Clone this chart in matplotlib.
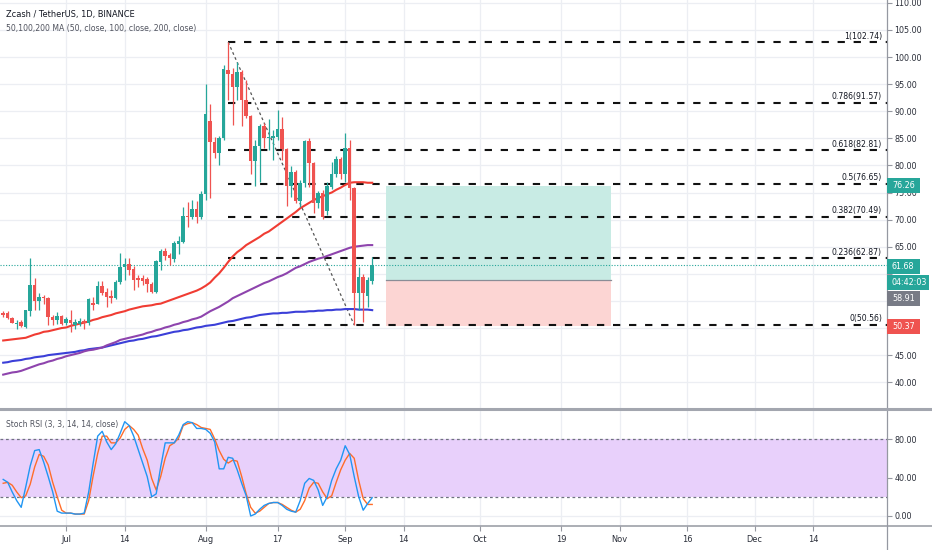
import matplotlib
matplotlib.use('Agg')
import matplotlib.pyplot as plt
import numpy as np
import pandas as pd
from matplotlib import font_manager
from matplotlib.patches import Rectangle
from matplotlib.lines import Line2D

# ---------------- data ----------------
FIRST_DATE = '2020-06-17'
LAST_DATE = '2020-09-07'

OPEN = [52.7, 52.8, 51.8, 50.8, 51.2, 50.1, 53.2, 57.9, 54.9, 55.8,
        55.5, 52.1, 51.5, 52.3, 51.0, 51.5, 50.6, 50.7, 51.3, 50.9,
        54.7, 54.5, 57.8, 56.7, 56.0, 55.5, 58.4, 61.2, 61.9, 60.8,
        59.3, 59.3, 59.0, 58.2, 56.7, 62.2, 64.2, 63.4, 62.7, 65.5,
        65.9, 70.7, 70.5, 71.9, 70.4, 74.8, 88.2, 84.4, 82.3, 85.0,
        97.6, 96.9, 94.4, 97.3, 92.1, 89.1, 80.9, 83.6, 87.3, 85.0,
        85.1, 85.3, 86.7, 83.0, 76.2, 78.8, 73.5, 76.8, 84.5, 80.4,
        73.0, 75.0, 71.5, 76.1, 78.5, 81.1, 78.4, 83.2, 75.8, 56.5,
        59.4, 56.0, 58.6]
HIGH = [53.1, 53.1, 52.1, 51.5, 51.5, 53.4, 62.85, 59.3, 56.4, 56.1,
        55.8, 52.4, 53.0, 52.4, 52.1, 53.4, 51.6, 51.8, 51.6, 55.5,
        55.8, 58.7, 58.6, 57.3, 57.0, 58.9, 63.8, 62.9, 63.0, 61.4,
        59.8, 59.8, 59.5, 58.5, 62.5, 64.5, 64.7, 63.8, 66.1, 66.9,
        72.3, 73.3, 73.7, 73.5, 75.2, 95.1, 91.3, 85.3, 85.4, 98.5,
        102.74, 97.9, 99.1, 97.6, 95.8, 89.3, 84.7, 87.6, 87.8, 88.5,
        86.5, 90.3, 88.9, 83.3, 79.9, 79.2, 77.3, 84.7, 85.0, 80.7,
        75.2, 75.4, 77.0, 80.7, 81.7, 81.5, 86.0, 84.7, 76.1, 61.3,
        59.9, 59.5, 63.1]
LOW = [52.0, 51.6, 50.9, 49.9, 50.1, 50.0, 52.2, 53.3, 53.3, 54.5,
       50.6, 50.6, 50.7, 50.6, 50.6, 49.3, 49.9, 50.3, 49.9, 50.6,
       53.3, 54.4, 56.1, 53.9, 54.7, 55.3, 58.2, 58.9, 59.8, 57.0,
       57.6, 57.9, 56.7, 56.5, 56.5, 60.7, 62.5, 61.6, 62.2, 63.7,
       65.6, 68.7, 70.2, 69.3, 70.2, 73.6, 73.9, 81.3, 80.1, 84.7,
       92.1, 87.5, 92.1, 87.2, 88.7, 78.5, 76.2, 77.0, 83.2, 82.8,
       81.0, 84.7, 81.0, 72.5, 74.2, 73.0, 72.3, 76.1, 76.1, 71.2,
       72.1, 70.2, 70.9, 75.6, 77.9, 77.5, 77.0, 73.6, 50.56, 53.3,
       51.1, 53.9, 58.2]
CLOSE = [52.4, 51.8, 51.0, 51.0, 50.3, 53.3, 57.9, 55.0, 55.7, 55.5,
         52.1, 51.5, 52.2, 50.7, 51.6, 50.9, 51.2, 51.3, 50.9, 55.3,
         54.2, 57.8, 56.5, 55.8, 55.6, 58.4, 61.2, 61.8, 60.7, 58.9,
         58.9, 58.7, 58.1, 56.7, 62.4, 64.2, 63.3, 62.9, 65.6, 66.0,
         70.7, 70.4, 71.9, 70.4, 74.8, 89.5, 84.4, 82.2, 85.0, 97.7,
         96.9, 94.5, 97.3, 92.1, 89.1, 80.9, 83.6, 87.3, 85.0, 85.3,
         85.4, 86.7, 83.0, 76.2, 78.8, 73.5, 76.8, 84.5, 80.4, 73.1,
         75.0, 70.5, 76.2, 78.5, 81.1, 78.4, 83.2, 75.8, 56.5, 59.4,
         56.5, 58.9, 61.68]

MA50 = [47.7, 47.8, 47.9, 48.0, 48.1, 48.2, 48.5, 48.8, 49.0, 49.3,
        49.4, 49.6, 49.8, 50.0, 50.1, 50.4, 50.6, 50.8, 51.0, 51.2,
        51.5, 51.7, 52.0, 52.2, 52.4, 52.7, 52.9, 53.1, 53.4, 53.6,
        53.8, 54.0, 54.1, 54.2, 54.4, 54.5, 54.8, 55.1, 55.4, 55.7,
        56.0, 56.3, 56.6, 56.9, 57.3, 57.8, 58.4, 59.3, 60.1, 61.1,
        62.2, 63.2, 64.0, 64.6, 65.3, 65.8, 66.3, 66.8, 67.4, 67.8,
        68.4, 69.0, 69.6, 70.2, 70.8, 71.4, 72.1, 72.6, 73.1, 73.6,
        74.0, 74.3, 74.7, 75.0, 75.5, 75.9, 76.4, 76.8, 76.9, 76.9,
        76.9, 76.8, 76.8]
MA100 = [41.4, 41.6, 41.8, 41.9, 42.1, 42.4, 42.7, 43.0, 43.3, 43.5,
         43.8, 44.0, 44.3, 44.5, 44.8, 45.0, 45.2, 45.4, 45.7, 45.9,
         46.0, 46.2, 46.4, 46.8, 47.1, 47.4, 47.8, 48.0, 48.2, 48.4,
         48.6, 48.8, 49.1, 49.3, 49.6, 49.8, 50.1, 50.3, 50.6, 50.8,
         51.1, 51.3, 51.6, 51.8, 52.1, 52.6, 53.1, 53.5, 53.9, 54.4,
         54.9, 55.5, 55.9, 56.3, 56.7, 57.1, 57.5, 57.9, 58.3, 58.6,
         59.0, 59.4, 59.7, 60.1, 60.6, 61.1, 61.4, 61.8, 62.2, 62.5,
         62.8, 63.0, 63.3, 63.6, 63.9, 64.2, 64.5, 64.8, 65.0, 65.1,
         65.2, 65.3, 65.3]
MA200 = [43.6, 43.7, 43.9, 44.0, 44.1, 44.3, 44.4, 44.6, 44.7, 44.8,
         45.0, 45.1, 45.2, 45.3, 45.4, 45.5, 45.6, 45.8, 45.9, 46.1,
         46.2, 46.3, 46.4, 46.6, 46.8, 47.0, 47.2, 47.4, 47.6, 47.7,
         47.9, 48.0, 48.2, 48.4, 48.5, 48.7, 48.9, 49.1, 49.3, 49.4,
         49.6, 49.7, 49.9, 50.1, 50.2, 50.4, 50.5, 50.6, 50.8, 51.0,
         51.2, 51.3, 51.5, 51.7, 51.9, 52.0, 52.2, 52.4, 52.5, 52.6,
         52.7, 52.7, 52.8, 52.8, 52.9, 53.0, 53.0, 53.0, 53.1, 53.1,
         53.2, 53.2, 53.3, 53.3, 53.4, 53.4, 53.5, 53.5, 53.5, 53.4,
         53.4, 53.4, 53.3]

STOCH_K = [38, 35, 25, 16, 9, 30, 52, 68, 69, 56,
           41, 25, 5, 3, 3, 3, 2, 2, 3, 25,
           55, 83, 88, 77, 69, 75, 86, 98, 94, 83,
           69, 55, 41, 20, 23, 51, 76, 76, 76, 84,
           95, 98, 97, 91, 91, 90, 86, 77, 49, 49,
           61, 60, 48, 34, 21, 0, 2, 7, 11, 13,
           14, 14, 11, 7, 5, 4, 16, 34, 39, 37,
           27, 11, 20, 37, 49, 58, 73, 64, 41, 20,
           6, 13, 19]
STOCH_D = [34, 35, 32, 25, 19, 21, 33, 51, 64, 62,
           53, 35, 20, 6, 3, 3, 2, 2, 2, 16,
           42, 65, 83, 83, 76, 76, 81, 90, 94, 90,
           84, 70, 58, 39, 27, 41, 60, 73, 76, 81,
           94, 96, 97, 95, 92, 91, 90, 80, 68, 59,
           55, 58, 57, 41, 23, 9, 3, 5, 9, 13,
           14, 14, 12, 9, 6, 4, 7, 16, 29, 35,
           34, 25, 18, 21, 35, 48, 58, 65, 60, 37,
           18, 12, 12]

FIB_START = '2020-08-06'
FIB_RATIOS = ['1', '0.786', '0.618', '0.5', '0.382', '0.236', '0']
FIB_PRICES = [102.74, 91.57, 82.81, 76.65, 70.49, 62.87, 50.56]
TREND_DATES = ['2020-08-06', '2020-09-03']
TREND_PRICES = [102.74, 50.56]

POS_START = '2020-09-10'
POS_END = '2020-10-30'
POS_ENTRY = 58.91
POS_TARGET = 76.26
POS_STOP = 50.37
LAST_PRICE = 61.68
TIMER = '04:42:03'

TICK_DATES = ['2020-07-01', '2020-07-14', '2020-08-01', '2020-08-17', '2020-09-01',
              '2020-09-14', '2020-10-01', '2020-10-19', '2020-11-01', '2020-11-16',
              '2020-12-01', '2020-12-14']
TICK_LABELS = ['Jul', '14', 'Aug', '17', 'Sep', '14', 'Oct', '19', 'Nov', '16', 'Dec', '14']
PRICE_TICKS = [40, 45, 50, 55, 60, 65, 70, 75, 80, 85, 90, 95, 100, 105, 110]
HIDDEN_PRICE_LABELS = [50, 55, 60]   # covered by the coloured price tags
RSI_TICKS = [0, 40, 80]

TITLE = 'Zcash / TetherUS, 1D, BINANCE'
MA_TITLE = '50,100,200 MA (50, close, 100, close, 200, close)'
RSI_TITLE = 'Stoch RSI (3, 3, 14, 14, close)'

# ---------------- helpers ----------------
names = {f.name for f in font_manager.fontManager.ttflist}
if 'Liberation Sans Narrow' in names:
    FONT = 'Liberation Sans Narrow'
    FS = 1.0
else:
    FONT = 'DejaVu Sans'
    FS = 0.78

REF = pd.Timestamp('2020-07-01')
def dnum(s):
    return (pd.Timestamp(s) - REF).days

dates = pd.date_range(FIRST_DATE, LAST_DATE, freq='D')
xs = np.array([(d - REF).days for d in dates], dtype=float)
O = np.array(OPEN); H = np.array(HIGH); L = np.array(LOW); C = np.array(CLOSE)

W, Hh = 932, 550
fig = plt.figure(figsize=(W / 100, Hh / 100), dpi=100)
fig.patch.set_facecolor('white')

AX_R = 887
MAIN_BOT = 409
RSI_BOT = 526
ax = fig.add_axes([0, 1 - MAIN_BOT / Hh, AX_R / W, MAIN_BOT / Hh])
ax2 = fig.add_axes([0, 1 - RSI_BOT / Hh, AX_R / W, (RSI_BOT - MAIN_BOT) / Hh])

XL = (-14.71, 182.4)
for a in (ax, ax2):
    a.set_xlim(*XL)
    for s in a.spines.values():
        s.set_visible(False)
    a.set_facecolor('none')
ax.set_ylim(35.06, 110.52)
ax2.set_ylim(-10.4, 111.2)

GREEN = '#26a69a'
RED = '#ef5350'
GRID = '#eceef3'
TXT = '#2a2e39'

tick_x = [dnum(t) for t in TICK_DATES]

# grid
for a in (ax, ax2):
    for tx in tick_x:
        a.axvline(tx, color=GRID, lw=0.9, zorder=0)
for p in PRICE_TICKS:
    ax.axhline(p, color=GRID, lw=0.9, zorder=0)
for v in RSI_TICKS:
    ax2.axhline(v, color=GRID, lw=0.9, zorder=0)

# position box
px0, px1 = dnum(POS_START), dnum(POS_END)
ax.add_patch(Rectangle((px0, POS_ENTRY), px1 - px0, POS_TARGET - POS_ENTRY,
                       facecolor='#c8ebe4', edgecolor='none', zorder=1))
ax.add_patch(Rectangle((px0, POS_STOP), px1 - px0, POS_ENTRY - POS_STOP,
                       facecolor='#fcd5d3', edgecolor='none', zorder=1))
ax.plot([px0, px1], [POS_ENTRY, POS_ENTRY], color='#8a8d96', lw=0.9, zorder=2)

# last price dotted line
ax.axhline(LAST_PRICE, color=GREEN, lw=0.8, ls=(0, (1, 1.5)), zorder=2)

# fib levels
fx0 = dnum(FIB_START)
for r, p in zip(FIB_RATIOS, FIB_PRICES):
    ax.plot([fx0, XL[1]], [p, p], color='#111111', lw=1.5, ls=(0, (3.5, 4.2)), zorder=3,
            solid_capstyle='butt', dash_capstyle='butt')
    ax.annotate(f'{r}({p:.2f})', xy=(882 / AX_R, p), xycoords=('axes fraction', 'data'),
                xytext=(0, 1.2), textcoords='offset points', ha='right', va='bottom',
                fontsize=7.2 * FS, family=FONT, color='#131722', zorder=7)
ax.plot([dnum(d) for d in TREND_DATES], TREND_PRICES, color='#555555', lw=0.9,
        ls=(0, (2.2, 2.2)), zorder=3)

# moving averages
ax.plot(xs, MA200, color='#3b3fd8', lw=1.5, zorder=4)
ax.plot(xs, MA100, color='#8e44ad', lw=1.5, zorder=4)
ax.plot(xs, MA50, color='#f03c33', lw=1.5, zorder=4)

# candles
up = C >= O
cols = np.where(up, GREEN, RED)
ax.vlines(xs, L, H, colors=cols, lw=0.9, zorder=5)
body_lo = np.minimum(O, C)
body_h = np.maximum(np.abs(C - O), 0.18)
ax.bar(xs, body_h, bottom=body_lo, width=0.78, color=cols, edgecolor='none', zorder=6)

# axes ticks main
ax.set_xticks(tick_x)
ax.tick_params(axis='x', length=0, labelbottom=False)
ax.yaxis.tick_right()
ax.set_yticks(PRICE_TICKS)
ax.set_yticklabels(['' if p in HIDDEN_PRICE_LABELS else f'{p:.2f}' for p in PRICE_TICKS])
ax.tick_params(axis='y', length=3.5, width=0.8, color='#9598a1', pad=2,
               labelsize=7.4 * FS, labelcolor=TXT)
for t in ax.get_yticklabels():
    t.set_family(FONT)

# RSI panel
ax2.axhspan(20, 80, color='#e8d0fb', zorder=1, lw=0)
ax2.axhline(80, color='#6f7280', lw=0.9, ls=(0, (2.2, 2.2)), zorder=2)
ax2.axhline(20, color='#6f7280', lw=0.9, ls=(0, (2.2, 2.2)), zorder=2)
ax2.plot(xs, STOCH_D, color='#ff6d2a', lw=1.0, zorder=3)
ax2.plot(xs, STOCH_K, color='#2196f3', lw=1.0, zorder=4)
ax2.set_xticks(tick_x)
ax2.set_xticklabels(TICK_LABELS)
ax2.tick_params(axis='x', length=3.5, width=0.8, color='#9598a1', pad=3,
                labelsize=7.6 * FS, labelcolor=TXT)
for t in ax2.get_xticklabels():
    t.set_family(FONT)
ax2.yaxis.tick_right()
ax2.set_yticks(RSI_TICKS)
ax2.set_yticklabels([f'{v:.2f}' for v in RSI_TICKS])
ax2.tick_params(axis='y', length=3.5, width=0.8, color='#9598a1', pad=2,
                labelsize=7.4 * FS, labelcolor=TXT)
for t in ax2.get_yticklabels():
    t.set_family(FONT)

# frame lines
def fxp(px):
    return px / W
def fyp(py):
    return 1 - py / Hh
fig.add_artist(Line2D([fxp(AX_R), fxp(AX_R)], [0, 1], color='#9598a1', lw=0.9))
fig.add_artist(Line2D([0, 1], [fyp(MAIN_BOT), fyp(MAIN_BOT)], color='#a3a6af', lw=2.2))
fig.add_artist(Line2D([0, 1], [fyp(RSI_BOT), fyp(RSI_BOT)], color='#9598a1', lw=1.1))

# titles
fig.text(fxp(6), fyp(14), TITLE, ha='left', va='center', fontsize=7.6 * FS,
         family=FONT, color='#131722')
fig.text(fxp(6), fyp(29), MA_TITLE, ha='left', va='center', fontsize=7.2 * FS,
         family=FONT, color='#50535e')
fig.text(fxp(6), fyp(424), RSI_TITLE, ha='left', va='center', fontsize=7.0 * FS,
         family=FONT, color='#50535e')

# price labels on axis
fig.canvas.draw()
def price_px(p):
    return Hh - ax.transData.transform((0, p))[1]

def axis_label(text, ycen, color, right=920):
    h = 15
    fig.add_artist(Rectangle((fxp(AX_R), fyp(ycen + h / 2)), (right - AX_R) / W, h / Hh,
                             transform=fig.transFigure, facecolor=color, edgecolor='none',
                             zorder=10))
    fig.text(fxp(AX_R + 5), fyp(ycen), text, ha='left', va='center', color='white',
             fontsize=7.4 * FS, family=FONT, zorder=11)

axis_label(f'{POS_TARGET:.2f}', price_px(POS_TARGET), GREEN)
yl = price_px(LAST_PRICE) + 1.5
axis_label(f'{LAST_PRICE:.2f}', yl, GREEN)
axis_label(TIMER, yl + 16.5, GREEN, right=929)
axis_label(f'{POS_ENTRY:.2f}', yl + 32.5, '#787b86')
axis_label(f'{POS_STOP:.2f}', price_px(POS_STOP), RED)

fig.savefig('out.png', dpi=100, facecolor='white')
